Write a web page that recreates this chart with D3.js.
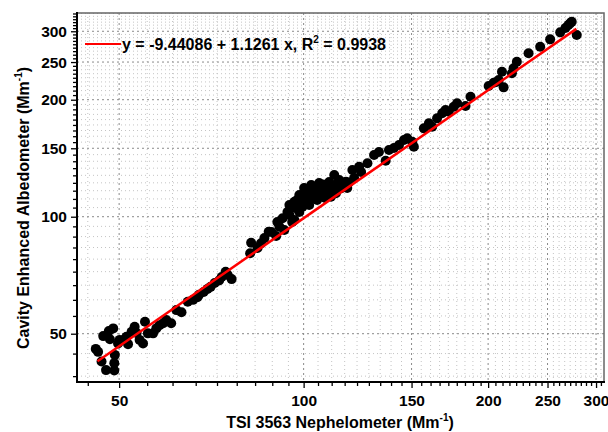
<!DOCTYPE html>
<html>
<head>
<meta charset="utf-8">
<style>
  body { margin: 0; background: #fff; }
  text { font-family: "Liberation Sans", Arial, sans-serif; font-weight: bold; }
</style>
</head>
<body>
<svg id="chart" width="608" height="432"></svg>

<script src="https://d3js.org/d3.v7.min.js"></script>
<script>
// TSI 3563 nephelometer (x) vs cavity enhanced albedometer (y), Mm-1
var nephX = [
  47.1, 48.9, 48.3, 46.2, 46.8, 47.6, 49.1, 49.1, 49.2, 49.8, 50.1, 51.4, 52.4, 53.0, 53.4, 54.0, 54.7,
  55.1, 55.7, 56.8, 57.5, 58.2, 59.0, 59.7, 60.8, 62.0, 63.2, 64.7, 66.0, 48.1, 45.8, 50.9, 51.7,
  67.1, 68.7, 69.7, 71.6, 74.6, 75.2, 76.3, 67.5, 70.5, 72.8, 73.5,
  81.8, 82.1, 85.2, 87.7, 90.2, 91.3, 92.4, 93.0, 94.8, 96.6, 96.6, 98.4, 99.6, 100.9, 101.5, 102.8,
  104.1, 105.4, 106.7, 108.0, 109.4, 110.8, 112.2, 112.9, 115.0, 115.7, 117.2, 120.1, 123.2, 127.1,
  130.3, 136.1, 137.8, 143.1, 145.8, 147.6,
  94.8, 97.6, 100.2, 102.9, 106.0, 110.1, 114.3, 95.8, 98.4, 102.1, 105.2, 108.4, 112.2, 117.8,
  120.9, 124.1, 94.1, 96.9, 104.1, 106.8, 88.6, 90.6, 86.3, 84.1, 132.7, 140.4,
  99.0, 101.0, 103.5, 107.5, 109.0, 111.5, 113.5, 118.5, 104.8, 97.0,
  150.4, 151.3, 157.1, 160.1, 162.1, 165.1, 168.3, 170.4, 172.5, 175.8, 178.0, 183.7, 187.2,
  200.4, 204.2, 206.8, 208.1, 212.0, 210.7, 218.7, 220.1, 222.8, 232.8, 243.2, 252.5, 262.2,
  270.4, 273.8, 272.2, 279.0, 267.4
];
var albedoY = [
  49.3, 51.6, 48.4, 44.9, 42.4, 40.3, 40.2, 42.0, 44.1, 47.2, 48.2, 49.1, 50.6, 52.1, 50.2, 48.2, 47.2,
  53.7, 50.1, 50.1, 51.6, 52.6, 53.2, 54.2, 53.2, 57.5, 56.8, 60.4, 61.1, 50.8, 45.7, 48.2, 47.0,
  62.1, 64.0, 65.2, 67.5, 72.2, 70.8, 69.1, 63.0, 66.0, 68.5, 70.0,
  80.5, 85.7, 85.4, 91.5, 89.2, 94.2, 99.1, 92.4, 101.0, 98.1, 109.3, 113.7, 106.1, 110.4, 117.1, 112.6,
  114.9, 116.0, 118.3, 117.1, 113.7, 112.6, 128.0, 114.9, 118.3, 121.9, 123.0, 131.9, 134.5, 137.2,
  144.1, 139.3, 148.5, 152.9, 157.5, 159.1,
  107.2, 110.4, 118.5, 120.7, 122.1, 122.8, 124.3, 96.9, 102.8, 107.2, 110.4, 111.7, 115.8, 118.5,
  125.8, 130.3, 102.8, 105.3, 111.7, 115.8, 91.3, 96.9, 88.1, 83.1, 146.7, 150.2,
  112.0, 115.5, 119.0, 121.0, 118.5, 120.0, 121.5, 122.5, 113.0, 108.0,
  155.9, 151.4, 168.8, 173.9, 170.4, 179.1, 184.5, 188.2, 186.3, 191.9, 195.8, 192.7, 203.6,
  216.9, 221.2, 222.5, 224.8, 215.2, 236.1, 233.9, 240.9, 250.5, 263.3, 273.8, 286.0, 298.1,
  311.3, 317.5, 314.5, 293.4, 305.8
];

var majorTicks = [50, 100, 150, 200, 250, 300];
var tickLabels = ["50", "100", "150", "200", "250", "300"];

// linear fit from the legend
var fitIntercept = -9.44086;
var fitSlope = 1.1261;
var fitR2 = "0.9938";
var fitXRange = [46.1, 278.6];

var svg = d3.select("#chart");
var pLeft = 77, pTop = 13, pRight = 604, pBottom = 382;

var x = d3.scaleLog().domain([42.68, 309.1]).range([pLeft, pRight]);
var y = d3.scaleLog().domain([37.56, 334.3]).range([pBottom, pTop]);

// 8 minor ticks between major ticks (linear spacing like Origin)
var minor = [];
for (var m = 0; m <= 300; m += 50)
  for (var k = 1; k <= 8; k++) minor.push(m + k * 50 / 9);
var xMinor = minor.filter(function(v) { return v > x.domain()[0] && v < x.domain()[1]; });
var yMinor = minor.filter(function(v) { return v > y.domain()[0] && v < y.domain()[1]; });

// grid
var grid = svg.append("g");
grid.selectAll(".vmin").data(xMinor).join("line")
  .attr("x1", d => x(d)).attr("x2", d => x(d)).attr("y1", pTop).attr("y2", pBottom)
  .attr("stroke", "#c4c4c4").attr("stroke-dasharray", "1,3");
grid.selectAll(".hmin").data(yMinor).join("line")
  .attr("y1", d => y(d)).attr("y2", d => y(d)).attr("x1", pLeft).attr("x2", pRight)
  .attr("stroke", "#c4c4c4").attr("stroke-dasharray", "1,3");
grid.selectAll(".vmaj").data(majorTicks).join("line")
  .attr("x1", d => x(d)).attr("x2", d => x(d)).attr("y1", pTop).attr("y2", pBottom)
  .attr("stroke", "#8a8a8a").attr("stroke-dasharray", "2,3");
grid.selectAll(".hmaj").data(majorTicks).join("line")
  .attr("y1", d => y(d)).attr("y2", d => y(d)).attr("x1", pLeft).attr("x2", pRight)
  .attr("stroke", "#8a8a8a").attr("stroke-dasharray", "2,3");

// frame (top/right grey)
svg.append("rect")
  .attr("x", pLeft).attr("y", pTop).attr("width", pRight - pLeft).attr("height", pBottom - pTop)
  .attr("fill", "none").attr("stroke", "#666").attr("stroke-width", 1.5);

// points
svg.append("g").selectAll("circle").data(nephX).join("circle")
  .attr("cx", d => x(d))
  .attr("cy", (d, i) => y(albedoY[i]))
  .attr("r", 5)
  .attr("fill", "#000");

// fit line
svg.append("line")
  .attr("x1", x(fitXRange[0])).attr("y1", y(fitIntercept + fitSlope * fitXRange[0]))
  .attr("x2", x(fitXRange[1])).attr("y2", y(fitIntercept + fitSlope * fitXRange[1]))
  .attr("stroke", "#ff0000").attr("stroke-width", 2.5);

// axes
function styleAxis(g) {
  g.select(".domain").remove();
  g.selectAll("line").attr("stroke", "#000").attr("stroke-width", 1.3);
  g.selectAll("text").attr("font-size", 15.5).attr("fill", "#000");
}
svg.append("g").attr("transform", "translate(" + pLeft + ",0)")
  .call(d3.axisLeft(y).tickValues(yMinor).tickSize(4).tickFormat(""))
  .call(styleAxis);
svg.append("g").attr("transform", "translate(" + pLeft + ",0)")
  .call(d3.axisLeft(y).tickValues(majorTicks).tickSize(6).tickPadding(4)
    .tickFormat((d, i) => tickLabels[i]))
  .call(styleAxis);
svg.append("g").attr("transform", "translate(0," + pBottom + ")")
  .call(d3.axisBottom(x).tickValues(xMinor).tickSize(4).tickFormat(""))
  .call(styleAxis);
svg.append("g").attr("transform", "translate(0," + pBottom + ")")
  .call(d3.axisBottom(x).tickValues(majorTicks).tickSize(6).tickPadding(7)
    .tickFormat((d, i) => tickLabels[i]))
  .call(styleAxis);

svg.append("line").attr("x1", pLeft).attr("x2", pLeft).attr("y1", pTop - 1).attr("y2", pBottom + 1)
  .attr("stroke", "#000").attr("stroke-width", 2);
svg.append("line").attr("x1", pLeft - 1).attr("x2", pRight + 1).attr("y1", pBottom).attr("y2", pBottom)
  .attr("stroke", "#000").attr("stroke-width", 2);

// axis titles
var xt = svg.append("text").attr("x", 340).attr("y", 428)
  .attr("text-anchor", "middle").attr("font-size", 16);
xt.append("tspan").text("TSI 3563 Nephelometer (Mm");
xt.append("tspan").attr("font-size", 10).attr("dy", -7).text("-1");
xt.append("tspan").attr("dy", 7).text(")");

var yt = svg.append("text").attr("transform", "translate(29,208) rotate(-90)")
  .attr("text-anchor", "middle").attr("font-size", 16);
yt.append("tspan").text("Cavity Enhanced Albedometer (Mm");
yt.append("tspan").attr("font-size", 10).attr("dy", -7).text("-1");
yt.append("tspan").attr("dy", 7).text(")");

// legend
svg.append("line").attr("x1", 85).attr("x2", 121).attr("y1", 44).attr("y2", 44)
  .attr("stroke", "#ff0000").attr("stroke-width", 2);
var lt = svg.append("text").attr("x", 122).attr("y", 50).attr("font-size", 16);
lt.append("tspan").text("y = " + fitIntercept + " + " + fitSlope + " x, R");
lt.append("tspan").attr("font-size", 10).attr("dy", -7).text("2");
lt.append("tspan").attr("dy", 7).text(" = " + fitR2);
</script>
</body>
</html>
